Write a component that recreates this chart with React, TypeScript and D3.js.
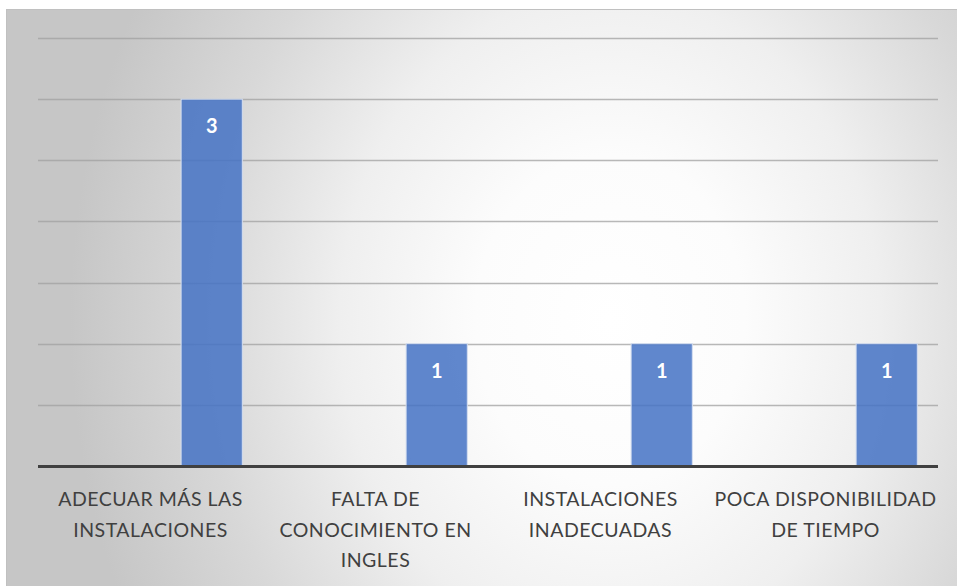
import React from "react";
import * as d3 from "d3";

const categories: string[][] = [
  ["ADECUAR MÁS LAS", "INSTALACIONES"],
  ["FALTA DE", "CONOCIMIENTO EN", "INGLES"],
  ["INSTALACIONES", "INADECUADAS"],
  ["POCA DISPONIBILIDAD", "DE TIEMPO"],
];
const values: number[] = [3, 1, 1, 1];
const yTicks: number[] = [0, 0.5, 1, 1.5, 2, 2.5, 3, 3.5];

const W = 957;
const H = 586;
const plot = { left: 38, right: 938, top: 38, bottom: 466 };

export default function App() {
  const x = d3
    .scaleBand<number>()
    .domain(d3.range(values.length))
    .range([plot.left, plot.right]);
  const y = d3.scaleLinear().domain([0, 3.5]).range([plot.bottom, plot.top]);
  const bw = x.bandwidth();
  const barOffset = bw * 0.636;
  const barW = bw * 0.272;

  return (
    <svg width={W} height={H} style={{ position: "absolute", left: 0, top: 0 }}>
      <defs>
        <radialGradient
          id="bg"
          cx={0}
          cy={0}
          r={1}
          gradientUnits="userSpaceOnUse"
          gradientTransform="translate(610,320) scale(540,660)"
        >
          <stop offset="0" stopColor="#ffffff" />
          <stop offset="0.25" stopColor="#fcfcfc" />
          <stop offset="0.5" stopColor="#efefef" />
          <stop offset="0.75" stopColor="#d8d8d8" />
          <stop offset="1" stopColor="#c6c6c6" />
        </radialGradient>
      </defs>
      <rect x={6.5} y={9.5} width={1000} height={620} fill="url(#bg)" stroke="#c0c0c0" strokeWidth={1} />
      {yTicks.slice(1).map((t) => (
        <line
          key={t}
          x1={plot.left}
          x2={plot.right}
          y1={Math.round(y(t)) + 0.5}
          y2={Math.round(y(t)) + 0.5}
          stroke="#a0a0a0"
          strokeOpacity={0.75}
          strokeWidth={1.5}
        />
      ))}
      {values.map((v, i) => {
        const bx = (x(i) as number) + barOffset;
        return (
          <g key={i}>
            <rect
              x={bx}
              y={y(v)}
              width={barW}
              height={plot.bottom - y(v)}
              fill="#4472c4"
              fillOpacity={0.85}
              stroke="#d6dff0"
              strokeWidth={1}
            />
            <text
              x={bx + barW / 2}
              y={y(v) + 34}
              textAnchor="middle"
              fill="#ffffff"
              fontFamily="Lato, 'Open Sans', sans-serif"
              fontWeight="bold"
              fontSize={20}
            >
              {v}
            </text>
          </g>
        );
      })}
      <line x1={plot.left} x2={plot.right} y1={plot.bottom + 0.5} y2={plot.bottom + 0.5} stroke="#404040" strokeWidth={3} />
      {categories.map((lines, i) => (
        <text
          key={i}
          x={(x(i) as number) + bw / 2}
          textAnchor="middle"
          fill="#404040"
          fontFamily="Lato, 'Open Sans', sans-serif"
          fontSize={19.5}
          letterSpacing={0.5}
        >
          {lines.map((l, j) => (
            <tspan key={j} x={(x(i) as number) + bw / 2} y={506 + j * 30.5}>
              {l}
            </tspan>
          ))}
        </text>
      ))}
    </svg>
  );
}
